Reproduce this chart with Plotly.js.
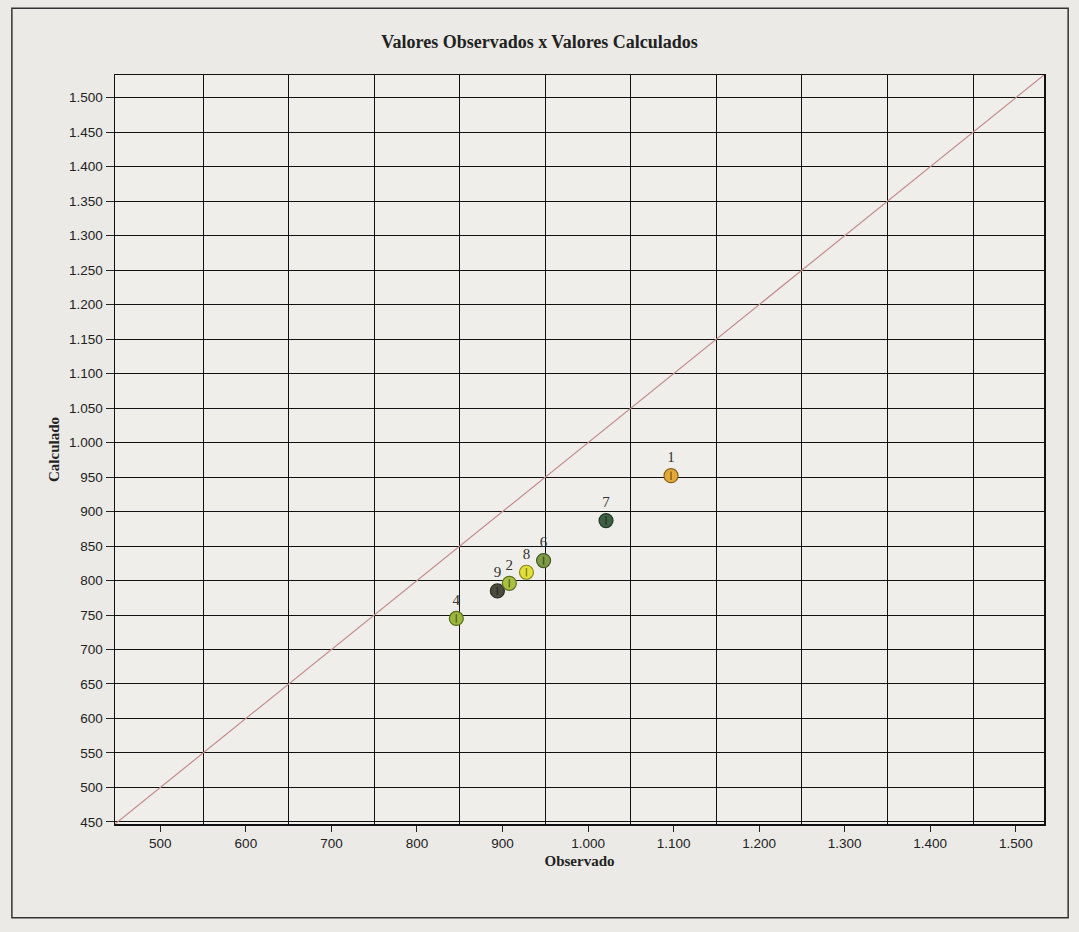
<!DOCTYPE html>
<html>
<head>
<meta charset="utf-8">
<script src="https://cdn.plot.ly/plotly-3.0.1.min.js"></script>
<style>
  html, body { margin: 0; padding: 0; background: #ebeae6; }
  #chart { width: 1079px; height: 932px; }
</style>
</head>
<body>
<div id="chart"></div>
<script>
// ---- data ----
const pointLabels = ['9', '2', '4', '8', '6', '7', '1'];
const observado   = [894, 908, 846, 928, 948, 1021, 1097];
const calculado   = [785, 796, 745, 812, 829, 887, 952];
const pointColors = ['#4b4b3f', '#a9c043', '#9cb63d', '#e0df3c', '#7e9b46', '#3f5f42', '#e3aa3b'];
const edgeColors  = ['#2c2c24', '#607020', '#5a6c20', '#8a8a20', '#46582a', '#26382a', '#8a6418'];

const axisRange = [447, 1533];
const refLine = [447, 1533];
const xTickVals = [500, 600, 700, 800, 900, 1000, 1100, 1200, 1300, 1400, 1500];
const xGridVals = [550, 650, 750, 850, 950, 1050, 1150, 1250, 1350, 1450];
const yTickVals = [450, 500, 550, 600, 650, 700, 750, 800, 850, 900, 950, 1000, 1050, 1100, 1150, 1200, 1250, 1300, 1350, 1400, 1450, 1500];

const tickFont = { family: 'Liberation Sans, Arial', size: 13.5, color: '#222' };
const serif = 'Liberation Serif, DejaVu Serif, Times New Roman, serif';

const traces = [
  {
    x: refLine, y: refLine, xaxis: 'x2', yaxis: 'y', mode: 'lines', type: 'scatter',
    line: { color: '#c48c8c', width: 1.2 }, hoverinfo: 'skip', showlegend: false
  },
  {
    x: observado, y: calculado, mode: 'markers+text', type: 'scatter',
    text: pointLabels, textposition: 'top center',
    textfont: { family: serif, size: 15, color: '#333' },
    marker: { size: 14, color: pointColors, line: { color: edgeColors, width: 1.2 } },
    showlegend: false
  },
  {
    x: observado, y: calculado, mode: 'markers', type: 'scatter',
    marker: { symbol: 'line-ns', size: 6, line: { color: edgeColors, width: 1.5 } },
    hoverinfo: 'skip', showlegend: false
  }
];

const layout = {
  width: 1079, height: 932,
  margin: { l: 115, r: 35, t: 75, b: 108 },
  paper_bgcolor: '#ebeae6',
  plot_bgcolor: '#efeeea',
  separators: ',.',
  showlegend: false,
  title: {
    text: '<b>Valores Observados x Valores Calculados</b>',
    font: { family: serif, size: 18, color: '#222' },
    x: 0.5, xanchor: 'center', y: 0.955, yanchor: 'middle'
  },
  xaxis: {
    range: axisRange, tickvals: xTickVals, tickformat: ',d',
    ticks: 'outside', ticklen: 6, tickcolor: '#222',
    showgrid: false, zeroline: false,
    showline: true, mirror: true, linecolor: '#111', linewidth: 1.5,
    tickfont: tickFont,
    title: { text: '<b>Observado</b>', font: { family: serif, size: 15, color: '#222' }, standoff: 6 }
  },
  xaxis2: {
    range: axisRange, overlaying: 'x', side: 'bottom', tickvals: xGridVals,
    showgrid: true, gridcolor: '#111', gridwidth: 1,
    showticklabels: false, ticks: '', zeroline: false, showline: false
  },
  yaxis: {
    range: axisRange, tickvals: yTickVals, tickformat: ',d',
    ticks: 'outside', ticklen: 8, tickcolor: '#222',
    showgrid: true, gridcolor: '#111', gridwidth: 1, zeroline: false,
    showline: true, mirror: true, linecolor: '#111', linewidth: 1.5,
    tickfont: tickFont,
    title: { text: '<b>Calculado</b>', font: { family: serif, size: 15, color: '#222' }, standoff: 6 }
  },
  shapes: [
    { type: 'rect', xref: 'paper', yref: 'paper', x0: -0.111, x1: 1.026, y0: -0.125, y1: 1.089,
      line: { color: '#333', width: 1.5 }, fillcolor: 'rgba(0,0,0,0)', layer: 'below' }
  ]
};

Plotly.newPlot('chart', traces, layout, { displayModeBar: false, staticPlot: true });
</script>
</body>
</html>
